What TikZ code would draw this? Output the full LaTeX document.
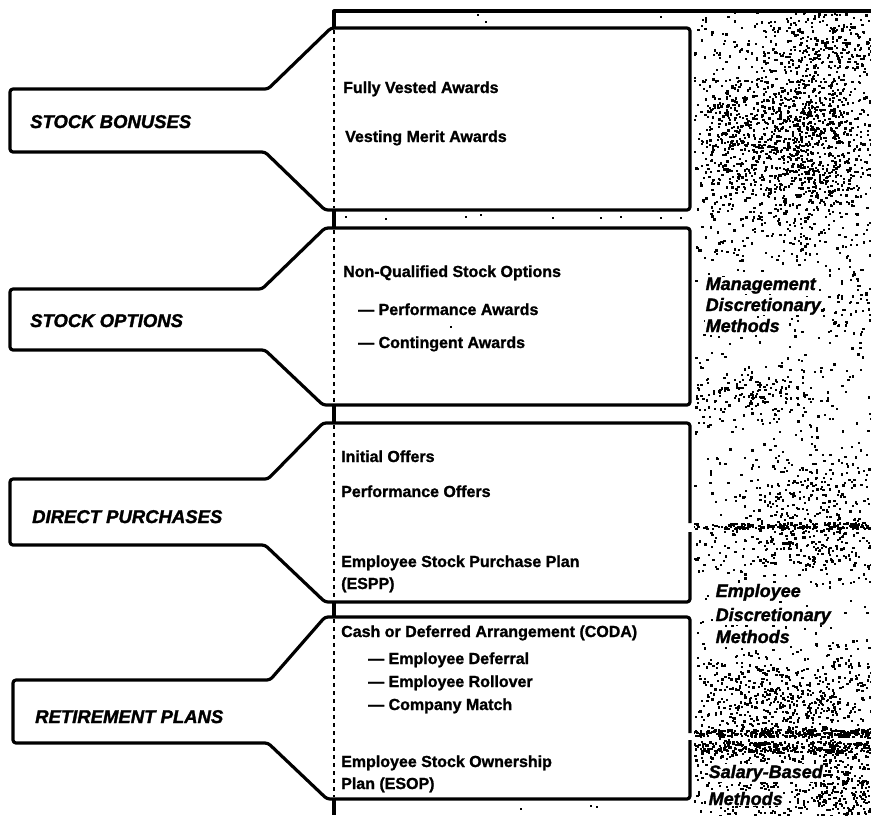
\documentclass[tikz,border=0pt]{standalone}
\usepackage{fontspec}
\setmainfont{Liberation Sans}[BoldFeatures={FakeBold=1.2},BoldItalicFeatures={FakeBold=1.6}]
\newcommand\speckg[5]{%
  \foreach \k in {1,...,#5}{%
    \pgfmathsetmacro\xx{#1+#3*(rnd+rnd+rnd-1.5)*2}%
    \pgfmathsetmacro\yy{#2+#4*(rnd+rnd+rnd-1.5)*2}%
    \fill (\xx,\yy) rectangle ++(2.3,2.3);
  }}
\newcommand\specku[5]{%
  \foreach \k in {1,...,#5}{%
    \pgfmathsetmacro\xx{#1+(#3-#1)*rnd}%
    \pgfmathsetmacro\yy{#2+(#4-#2)*rnd}%
    \fill (\xx,\yy) rectangle ++(2.3,2.3);
  }}
\tikzset{
  outl/.style={line width=3.2pt, line join=round, rounded corners=3pt},
  frame/.style={line width=3.2pt, line join=round},
  dashline/.style={line width=2.6pt, dash pattern=on 4pt off 4pt},
  item/.style={anchor=base west, inner sep=0pt, font=\fontsize{16}{18}\selectfont\bfseries},
  tablab/.style={anchor=base west, inner sep=0pt, font=\fontsize{18.5}{20}\selectfont\bfseries\itshape},
  methlab/.style={anchor=base west, inner sep=0.5pt, fill=white, font=\fontsize{18}{20}\selectfont\bfseries\itshape},
}
\begin{document}
\begin{tikzpicture}[x=1pt,y=-1pt]
\useasboundingbox (0,0) rectangle (871,815);
\fill[white] (0,0) rectangle (871,815);

% speckled background on the right
\pgfmathsetseed{4711}
\begin{scope}
\clip (694,13) rectangle (871,815);
\speckg{800}{135}{42}{52}{1400}
\speckg{722}{140}{18}{50}{260}
\specku{694}{13}{871}{60}{70}
\speckg{840}{40}{30}{20}{160}
\specku{694}{230}{871}{420}{200}
\speckg{760}{395}{40}{12}{150}
\speckg{850}{300}{18}{20}{50}
\speckg{805}{495}{40}{22}{220}
\specku{694}{420}{871}{528}{100}
\specku{690}{522}{871}{528}{180}
\speckg{800}{550}{40}{15}{150}
\specku{694}{530}{871}{735}{300}
\speckg{790}{700}{60}{25}{550}
\specku{690}{729}{871}{736}{260}
\specku{694}{741}{871}{752}{300}
\specku{694}{752}{871}{815}{340}
\speckg{840}{780}{25}{20}{180}
\end{scope}

% stray dots in the gaps
\foreach \p in {(477,14),(485,21),(660,16),(345,216),(385,218),(465,216),(480,214),(552,217),(600,217),(620,216),(660,217),(680,217),(450,326),(520,808),(590,805),(596,806)}
  \fill \p rectangle ++(2.2,2.2);

% frame and solid left line
\draw[frame] (334,28) -- (334,11) -- (871,11);
\draw[frame] (334,210) -- (334,228);
\draw[frame] (334,405) -- (334,423);
\draw[frame] (334,602) -- (334,617);
\draw[frame] (334,799) -- (334,815);

% dashed left line inside boxes
\draw[dashline] (334,30) -- (334,208);
\draw[dashline] (334,230) -- (334,403);
\draw[dashline] (334,425) -- (334,600);
\draw[dashline] (334,619) -- (334,797);

% box 1 with tab
\draw[outl] (331,28) -- (690,28) -- (690,210) -- (325,210) -- (265,152) -- (10,152) -- (10,89) -- (268,89) -- cycle;
% box 2 with tab
\draw[outl] (325,228) -- (690,228) -- (690,405) -- (323,405) -- (265,350) -- (10,350) -- (10,289) -- (262,289) -- cycle;
% box 3 with tab
\draw[outl] (690,532) -- (690,602) -- (325,602) -- (265,545) -- (10,545) -- (10,479) -- (268,479) -- (323,423) -- (690,423) -- (690,523);
% box 4 with tab
\draw[outl] (690,740) -- (690,799) -- (327,799) -- (268,743) -- (13,743) -- (13,680) -- (270,680) -- (325,617) -- (690,617) -- (690,733);

% tab labels
\node[tablab] (tsb) at (30,128) {STOCK BONUSES};
\node[tablab] (tso) at (30,327) {STOCK OPTIONS};
\node[tablab] (tdp) at (32,523) {DIRECT PURCHASES};
\node[tablab] (trp) at (35,723) {RETIREMENT PLANS};

% box 1 items
\node[item] (a1) at (343,93) {Fully Vested Awards};
\node[item] (a2) at (345,142) {Vesting Merit Awards};
% box 2 items
\node[item] (b1) at (343,277) {Non-Qualified Stock Options};
\node[item] (b2) at (358,315) {--- Performance Awards};
\node[item] (b3) at (358,348) {--- Contingent Awards};
% box 3 items
\node[item] (c1) at (341,462) {Initial Offers};
\node[item] (c2) at (341,497) {Performance Offers};
\node[item] (c3) at (341,567) {Employee Stock Purchase Plan};
\node[item] (c4) at (341,589) {(ESPP)};
% box 4 items
\node[item] (d1) at (341,637) {Cash or Deferred Arrangement (CODA)};
\node[item] (d2) at (368,664) {--- Employee Deferral};
\node[item] (d3) at (368,687) {--- Employee Rollover};
\node[item] (d4) at (368,710) {--- Company Match};
\node[item] (d5) at (341,767) {Employee Stock Ownership};
\node[item] (d6) at (341,789) {Plan (ESOP)};

% method labels
\node[methlab] (m1) at (705,290) {Management};
\node[methlab] (m2) at (705,311) {Discretionary};
\node[methlab] (m3) at (705,332) {Methods};
\node[methlab] (e1) at (715,597) {Employee};
\node[methlab] (e2) at (715,621) {Discretionary};
\node[methlab] (e3) at (715,643) {Methods};
\node[methlab] (s1) at (708,778) {Salary-Based};
\node[methlab] (s2) at (708,805) {Methods};
\end{tikzpicture}
\end{document}
